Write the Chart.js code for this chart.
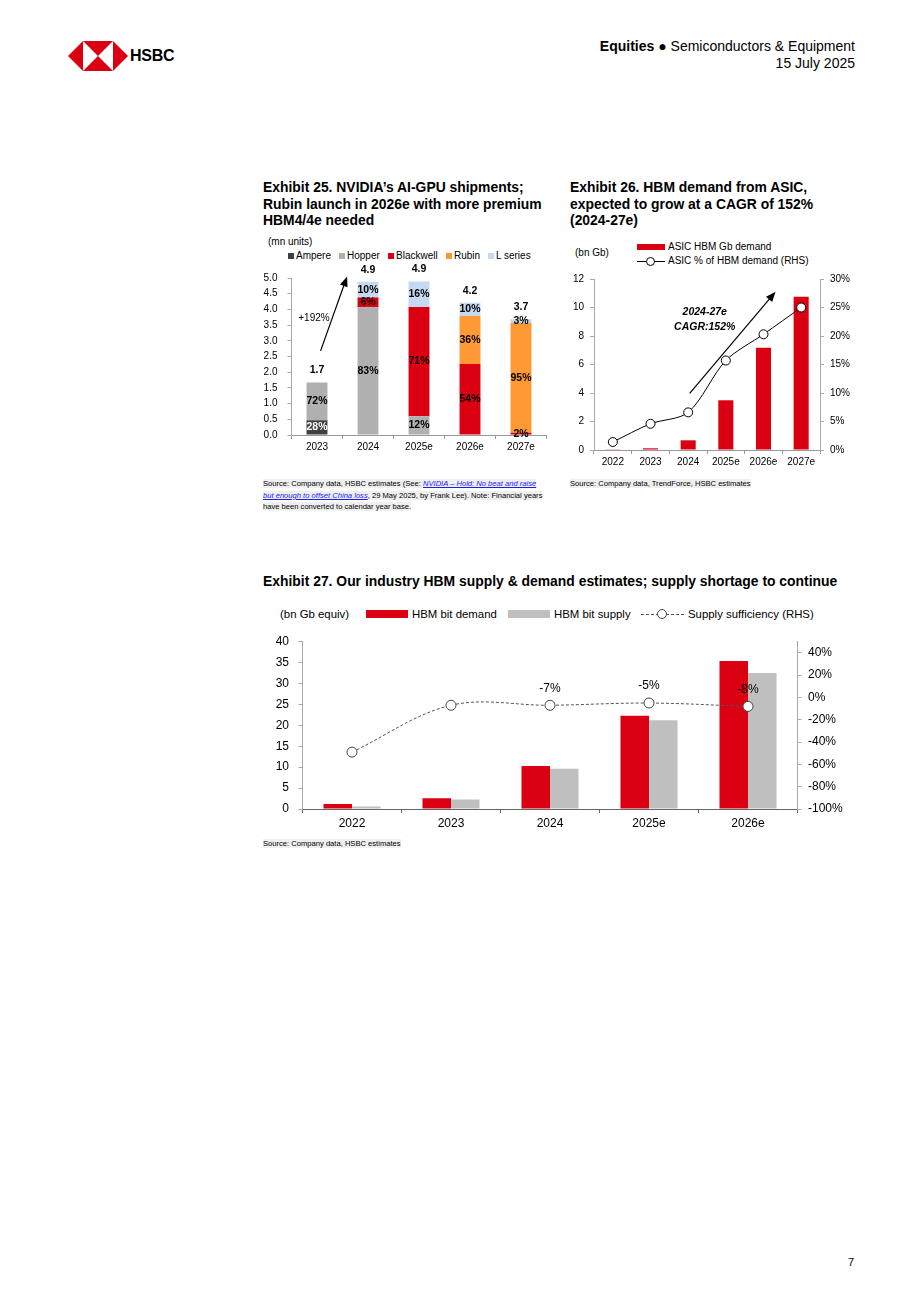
<!DOCTYPE html>
<html>
<head>
<meta charset="utf-8">
<script src="https://cdn.jsdelivr.net/npm/chart.js@4.4.0/dist/chart.umd.min.js"></script>
<style>
  body { margin: 0; background: #fff; font-family: "Liberation Sans", Arial, sans-serif; color: #000; }
  .page { position: relative; width: 920px; height: 1302px; overflow: hidden; }
  .abs { position: absolute; white-space: nowrap; }
  .title { font-weight: bold; font-size: 13.9px; line-height: 16.5px; }
  .src { font-size: 7.6px; line-height: 11.5px; }
  .src span { background: #efefef; }
  .src a { color: #1a1aff; font-style: italic; text-decoration: underline; }
  .lg { font-size: 10px; line-height: 12px; }
  .lg3 { font-size: 11.4px; line-height: 14px; }
  .sq { position: absolute; width: 6px; height: 6px; }
  canvas { position: absolute; }
</style>
</head>
<body>
<div class="page">
  <svg class="abs" style="left:68px;top:41px" width="60" height="30" viewBox="0 0 60 30">
    <polygon points="0,15 15,0 15,30" fill="#db0011"/>
    <polygon points="60,15 45,0 45,30" fill="#db0011"/>
    <polygon points="15,0 45,0 30,15" fill="#db0011"/>
    <polygon points="15,30 45,30 30,15" fill="#db0011"/>
  </svg>
  <div class="abs" style="left:130px;top:46px;font-size:16px;font-weight:bold;line-height:20px;letter-spacing:-0.3px">HSBC</div>
  <div class="abs" style="right:65px;top:38px;font-size:14px;line-height:16px"><b>Equities</b> &#9679; Semiconductors &amp; Equipment</div>
  <div class="abs" style="right:65px;top:55px;font-size:14px;line-height:16px">15 July 2025</div>

  <div class="abs title" style="left:263px;top:179px">Exhibit 25. NVIDIA’s AI-GPU shipments;<br>Rubin launch in 2026e with more premium<br>HBM4/4e needed</div>
  <div class="abs title" style="left:570px;top:179px">Exhibit 26. HBM demand from ASIC,<br>expected to grow at a CAGR of 152%<br>(2024-27e)</div>

  <div class="abs lg" style="left:268px;top:236px">(mn units)</div>
  <div class="sq" style="left:288px;top:253px;background:#404040"></div><div class="abs lg" style="left:296px;top:250px">Ampere</div>
  <div class="sq" style="left:339px;top:253px;background:#b0b0b0"></div><div class="abs lg" style="left:347px;top:250px">Hopper</div>
  <div class="sq" style="left:388px;top:253px;background:#db0011"></div><div class="abs lg" style="left:396px;top:250px">Blackwell</div>
  <div class="sq" style="left:446px;top:253px;background:#ff9933"></div><div class="abs lg" style="left:454px;top:250px">Rubin</div>
  <div class="sq" style="left:488px;top:253px;background:#c5d9f1"></div><div class="abs lg" style="left:496px;top:250px">L series</div>
  <canvas id="gpuChart" width="300" height="200" style="left:250px;top:262px"></canvas>

  <div class="abs lg" style="left:575px;top:247px">(bn Gb)</div>
  <div class="abs" style="left:637px;top:244px;width:28px;height:6px;background:#db0011"></div>
  <div class="abs lg" style="left:668px;top:241px">ASIC HBM Gb demand</div>
  <div class="abs" style="left:637px;top:261px;width:28px;height:1px;background:#000"></div>
  <div class="abs" style="left:646px;top:257px;width:7px;height:7px;border:1px solid #000;border-radius:50%;background:#fff"></div>
  <div class="abs lg" style="left:668px;top:255px">ASIC % of HBM demand (RHS)</div>
  <canvas id="asicChart" width="300" height="210" style="left:555px;top:265px"></canvas>

  <div class="abs src" style="left:263px;top:478px"><span>Source: Company data, HSBC estimates (See: <a>NVIDIA – Hold: No beat and raise</a></span><br><span><a>but enough to offset China loss</a>, 29 May 2025, by Frank Lee). Note: Financial years</span><br><span>have been converted to calendar year base.</span></div>
  <div class="abs src" style="left:570px;top:478px"><span>Source: Company data, TrendForce, HSBC estimates</span></div>

  <div class="abs title" style="left:263px;top:573px">Exhibit 27. Our industry HBM supply &amp; demand estimates; supply shortage to continue</div>
  <div class="abs lg3" style="left:280px;top:607px">(bn Gb equiv)</div>
  <div class="abs" style="left:366px;top:610px;width:42px;height:8px;background:#db0011"></div>
  <div class="abs lg3" style="left:412px;top:607px">HBM bit demand</div>
  <div class="abs" style="left:508px;top:610px;width:42px;height:8px;background:#bfbfbf"></div>
  <div class="abs lg3" style="left:554px;top:607px">HBM bit supply</div>
  <div class="abs" style="left:641px;top:614px;width:43px;height:0;border-top:1px dashed #555"></div>
  <div class="abs" style="left:657px;top:609px;width:8px;height:8px;border:1px solid #444;border-radius:50%;background:#fff"></div>
  <div class="abs lg3" style="left:688px;top:607px">Supply sufficiency (RHS)</div>
  <canvas id="hbmChart" width="600" height="210" style="left:255px;top:625px"></canvas>
  <div class="abs src" style="left:263px;top:838px"><span>Source: Company data, HSBC estimates</span></div>

  <div class="abs" style="left:848px;top:1255px;font-size:11px;line-height:14px">7</div>
</div>

<script>
// Exhibit 25 - NVIDIA AI-GPU shipments (mn units)
const gpuYears = ['2023', '2024', '2025e', '2026e', '2027e'];
const ampere = [0.47, 0, 0, 0, 0];
const hopper = [1.2, 4.07, 0.6, 0, 0];
const blackwell = [0, 0.31, 3.48, 2.26, 0.07];
const rubin = [0, 0, 0, 1.53, 3.5];
const lSeries = [0, 0.5, 0.81, 0.42, 0.12];
const amperePct = [28, null, null, null, null];
const hopperPct = [72, 83, 12, null, null];
const blackwellPct = [null, 6, 71, 54, 2];
const rubinPct = [null, null, null, 36, 95];
const lSeriesPct = [null, 10, 16, 10, 3];
const gpuTotals = ['1.7', '4.9', '4.9', '4.2', '3.7'];

// Exhibit 26 - ASIC HBM demand
const asicYears = ['2022', '2023', '2024', '2025e', '2026e', '2027e'];
const asicDemand = [0.02, 0.12, 0.68, 3.49, 7.18, 10.76];
const asicShare = [1.4, 4.6, 6.6, 15.7, 20.3, 25.0];

// Exhibit 27 - HBM supply & demand
const hbmYears = ['2022', '2023', '2024', '2025e', '2026e'];
const hbmDemand = [1.2, 2.6, 10.3, 22.3, 35.4];
const hbmSupply = [0.6, 2.3, 9.6, 21.2, 32.5];
const sufficiency = [-49, -7, -7, -5, -8];
const sufficiencyLabels = ['', '', '-7%', '-5%', '-8%'];

Chart.defaults.font.family = '"Liberation Sans", Arial, sans-serif';
Chart.defaults.color = '#000';
Chart.defaults.animation = false;

const RED = '#db0011';
const noPlugins = { legend: { display: false }, tooltip: { enabled: false } };

function drawArrow(ctx, x1, y1, x2, y2){
    const a = Math.atan2(y2 - y1, x2 - x1);
    ctx.save();
    ctx.strokeStyle = '#000';
    ctx.fillStyle = '#000';
    ctx.lineWidth = 1.2;
    ctx.beginPath();
    ctx.moveTo(x1, y1);
    ctx.lineTo(x2 - 7 * Math.cos(a), y2 - 7 * Math.sin(a));
    ctx.stroke();
    ctx.beginPath();
    ctx.moveTo(x2, y2);
    ctx.lineTo(x2 - 10 * Math.cos(a) + 4 * Math.sin(a), y2 - 10 * Math.sin(a) - 4 * Math.cos(a));
    ctx.lineTo(x2 - 10 * Math.cos(a) - 4 * Math.sin(a), y2 - 10 * Math.sin(a) + 4 * Math.cos(a));
    ctx.closePath();
    ctx.fill();
    ctx.restore();
}

function axisY(width, pad, extra){
    return Object.assign({
        afterFit: s => { s.width = width; },
        border: { color: '#aaa' },
        grid: { drawOnChartArea: false, tickLength: 4, color: '#aaa' },
        ticks: { padding: pad }
    }, extra);
}
function axisX(height, pad, fontSize, lineColor){
    return {
        afterFit: s => { s.height = height; },
        border: { color: lineColor },
        grid: { offset: true, drawOnChartArea: false, tickLength: 4, color: lineColor },
        ticks: { padding: pad, font: { size: fontSize } }
    };
}

// ---------- Exhibit 25 ----------
const gpuLabels = {
    id: 'gpuLabels',
    afterDatasetsDraw(chart){
        const ctx = chart.ctx;
        const y = chart.scales.y, x = chart.scales.x;
        ctx.save();
        ctx.font = 'bold 10.5px "Liberation Sans", Arial, sans-serif';
        ctx.textAlign = 'center';
        ctx.textBaseline = 'middle';
        chart.data.datasets.forEach((ds, i) => {
            chart.getDatasetMeta(i).data.forEach((bar, j) => {
                const p = ds.pct[j];
                if(p == null) return;
                ctx.fillStyle = ds.labelColor;
                ctx.fillText(p + '%', bar.x, (bar.y + bar.base) / 2);
            });
        });
        ctx.fillStyle = '#000';
        gpuYears.forEach((yr, j) => {
            const sum = ampere[j] + hopper[j] + blackwell[j] + rubin[j] + lSeries[j];
            ctx.fillText(gpuTotals[j], x.getPixelForValue(j), y.getPixelForValue(sum) - 12);
        });
        // growth arrow 2023 -> 2024
        drawArrow(ctx, x.getPixelForValue(0.07), y.getPixelForValue(2.68), x.getPixelForValue(0.59), y.getPixelForValue(5.05));
        ctx.font = '10px "Liberation Sans", Arial, sans-serif';
        ctx.fillText('+192%', x.getPixelForValue(-0.06), y.getPixelForValue(3.71));
        ctx.restore();
    }
};

new Chart(document.getElementById('gpuChart').getContext('2d'), {
    type: 'bar',
    data: {
        labels: gpuYears,
        datasets: [
            { label: 'Ampere', data: ampere, pct: amperePct, labelColor: '#fff', backgroundColor: '#404040' },
            { label: 'Hopper', data: hopper, pct: hopperPct, labelColor: '#000', backgroundColor: '#b0b0b0' },
            { label: 'Blackwell', data: blackwell, pct: blackwellPct, labelColor: '#000', backgroundColor: RED },
            { label: 'Rubin', data: rubin, pct: rubinPct, labelColor: '#000', backgroundColor: '#ff9933' },
            { label: 'L series', data: lSeries, pct: lSeriesPct, labelColor: '#000', backgroundColor: '#c5d9f1' }
        ]
    },
    options: {
        responsive: false,
        layout: { padding: { top: 15.7, right: 3.5, left: 0, bottom: 0 } },
        datasets: { bar: { categoryPercentage: 0.41, barPercentage: 1, borderWidth: 0 } },
        plugins: noPlugins,
        scales: {
            x: Object.assign(axisX(27, 2, 10, '#999'), { stacked: true }),
            y: axisY(41.5, 10, {
                stacked: true, min: 0, max: 5,
                ticks: { padding: 10, stepSize: 0.5, font: { size: 10 }, callback: v => v.toFixed(1) }
            })
        }
    },
    plugins: [gpuLabels]
});

// ---------- Exhibit 26 ----------
const asicNotes = {
    id: 'asicNotes',
    afterDatasetsDraw(chart){
        const ctx = chart.ctx;
        const x = chart.scales.x, y = chart.scales.y;
        drawArrow(ctx, x.getPixelForValue(2.04), y.getPixelForValue(3.98), x.getPixelForValue(4.32), y.getPixelForValue(11.1));
        ctx.save();
        ctx.font = 'italic bold 10.5px "Liberation Sans", Arial, sans-serif';
        ctx.textAlign = 'center';
        ctx.textBaseline = 'middle';
        ctx.fillStyle = '#000';
        ctx.fillText('2024-27e', x.getPixelForValue(2.44), y.getPixelForValue(9.7));
        ctx.fillText('CAGR:152%', x.getPixelForValue(2.44), y.getPixelForValue(8.63));
        ctx.restore();
    }
};

new Chart(document.getElementById('asicChart').getContext('2d'), {
    type: 'bar',
    data: {
        labels: asicYears,
        datasets: [
            { type: 'line', label: 'ASIC % of HBM demand (RHS)', data: asicShare, yAxisID: 'y1', order: 0,
              borderColor: '#000', borderWidth: 1, tension: 0.3, pointRadius: 4.5,
              pointBackgroundColor: '#fff', pointBorderColor: '#000', pointBorderWidth: 1 },
            { label: 'ASIC HBM Gb demand', data: asicDemand, yAxisID: 'y', order: 1,
              backgroundColor: RED, categoryPercentage: 0.4, barPercentage: 1 }
        ]
    },
    options: {
        responsive: false,
        layout: { padding: { top: 14, right: 0, left: 0, bottom: 0 } },
        plugins: noPlugins,
        scales: {
            x: axisX(25, 2, 10, '#999'),
            y: axisY(39, 6, { position: 'left', min: 0, max: 12,
                ticks: { padding: 6, stepSize: 2, font: { size: 10 } } }),
            y1: axisY(35, 6, { position: 'right', min: 0, max: 30,
                ticks: { padding: 6, stepSize: 5, font: { size: 10 }, callback: v => v + '%' } })
        }
    },
    plugins: [asicNotes]
});

// ---------- Exhibit 27 ----------
const hbmNotes = {
    id: 'hbmNotes',
    afterDatasetsDraw(chart){
        const ctx = chart.ctx;
        const meta = chart.getDatasetMeta(0);
        ctx.save();
        ctx.font = '12px "Liberation Sans", Arial, sans-serif';
        ctx.textAlign = 'center';
        ctx.textBaseline = 'middle';
        ctx.fillStyle = '#000';
        meta.data.forEach((pt, j) => {
            if(sufficiencyLabels[j]) ctx.fillText(sufficiencyLabels[j], pt.x, pt.y - 17);
        });
        ctx.restore();
    }
};

new Chart(document.getElementById('hbmChart').getContext('2d'), {
    type: 'bar',
    data: {
        labels: hbmYears,
        datasets: [
            { type: 'line', label: 'Supply sufficiency (RHS)', data: sufficiency, yAxisID: 'y1', order: 0,
              borderColor: '#555', borderWidth: 1, borderDash: [3, 2], tension: 0.35, pointRadius: 5,
              pointBackgroundColor: '#fff', pointBorderColor: '#444', pointBorderWidth: 1 },
            { label: 'HBM bit demand', data: hbmDemand, yAxisID: 'y', order: 1, backgroundColor: RED },
            { label: 'HBM bit supply', data: hbmSupply, yAxisID: 'y', order: 1, backgroundColor: '#bfbfbf' }
        ]
    },
    options: {
        responsive: false,
        layout: { padding: { top: 14, right: 0, left: 0, bottom: 0 } },
        datasets: { bar: { categoryPercentage: 0.576, barPercentage: 1 } },
        plugins: noPlugins,
        scales: {
            x: axisX(26, 3, 12, '#666'),
            y: axisY(47.5, 9.5, { position: 'left', min: 0, max: 40,
                ticks: { padding: 9.5, stepSize: 5, font: { size: 12 } } }),
            y1: axisY(57.5, 6.5, { position: 'right', min: -100, max: 50,
                ticks: { padding: 6.5, stepSize: 20, includeBounds: false, font: { size: 12 }, callback: v => v + '%' } })
        }
    },
    plugins: [hbmNotes]
});
</script>
</body>
</html>
